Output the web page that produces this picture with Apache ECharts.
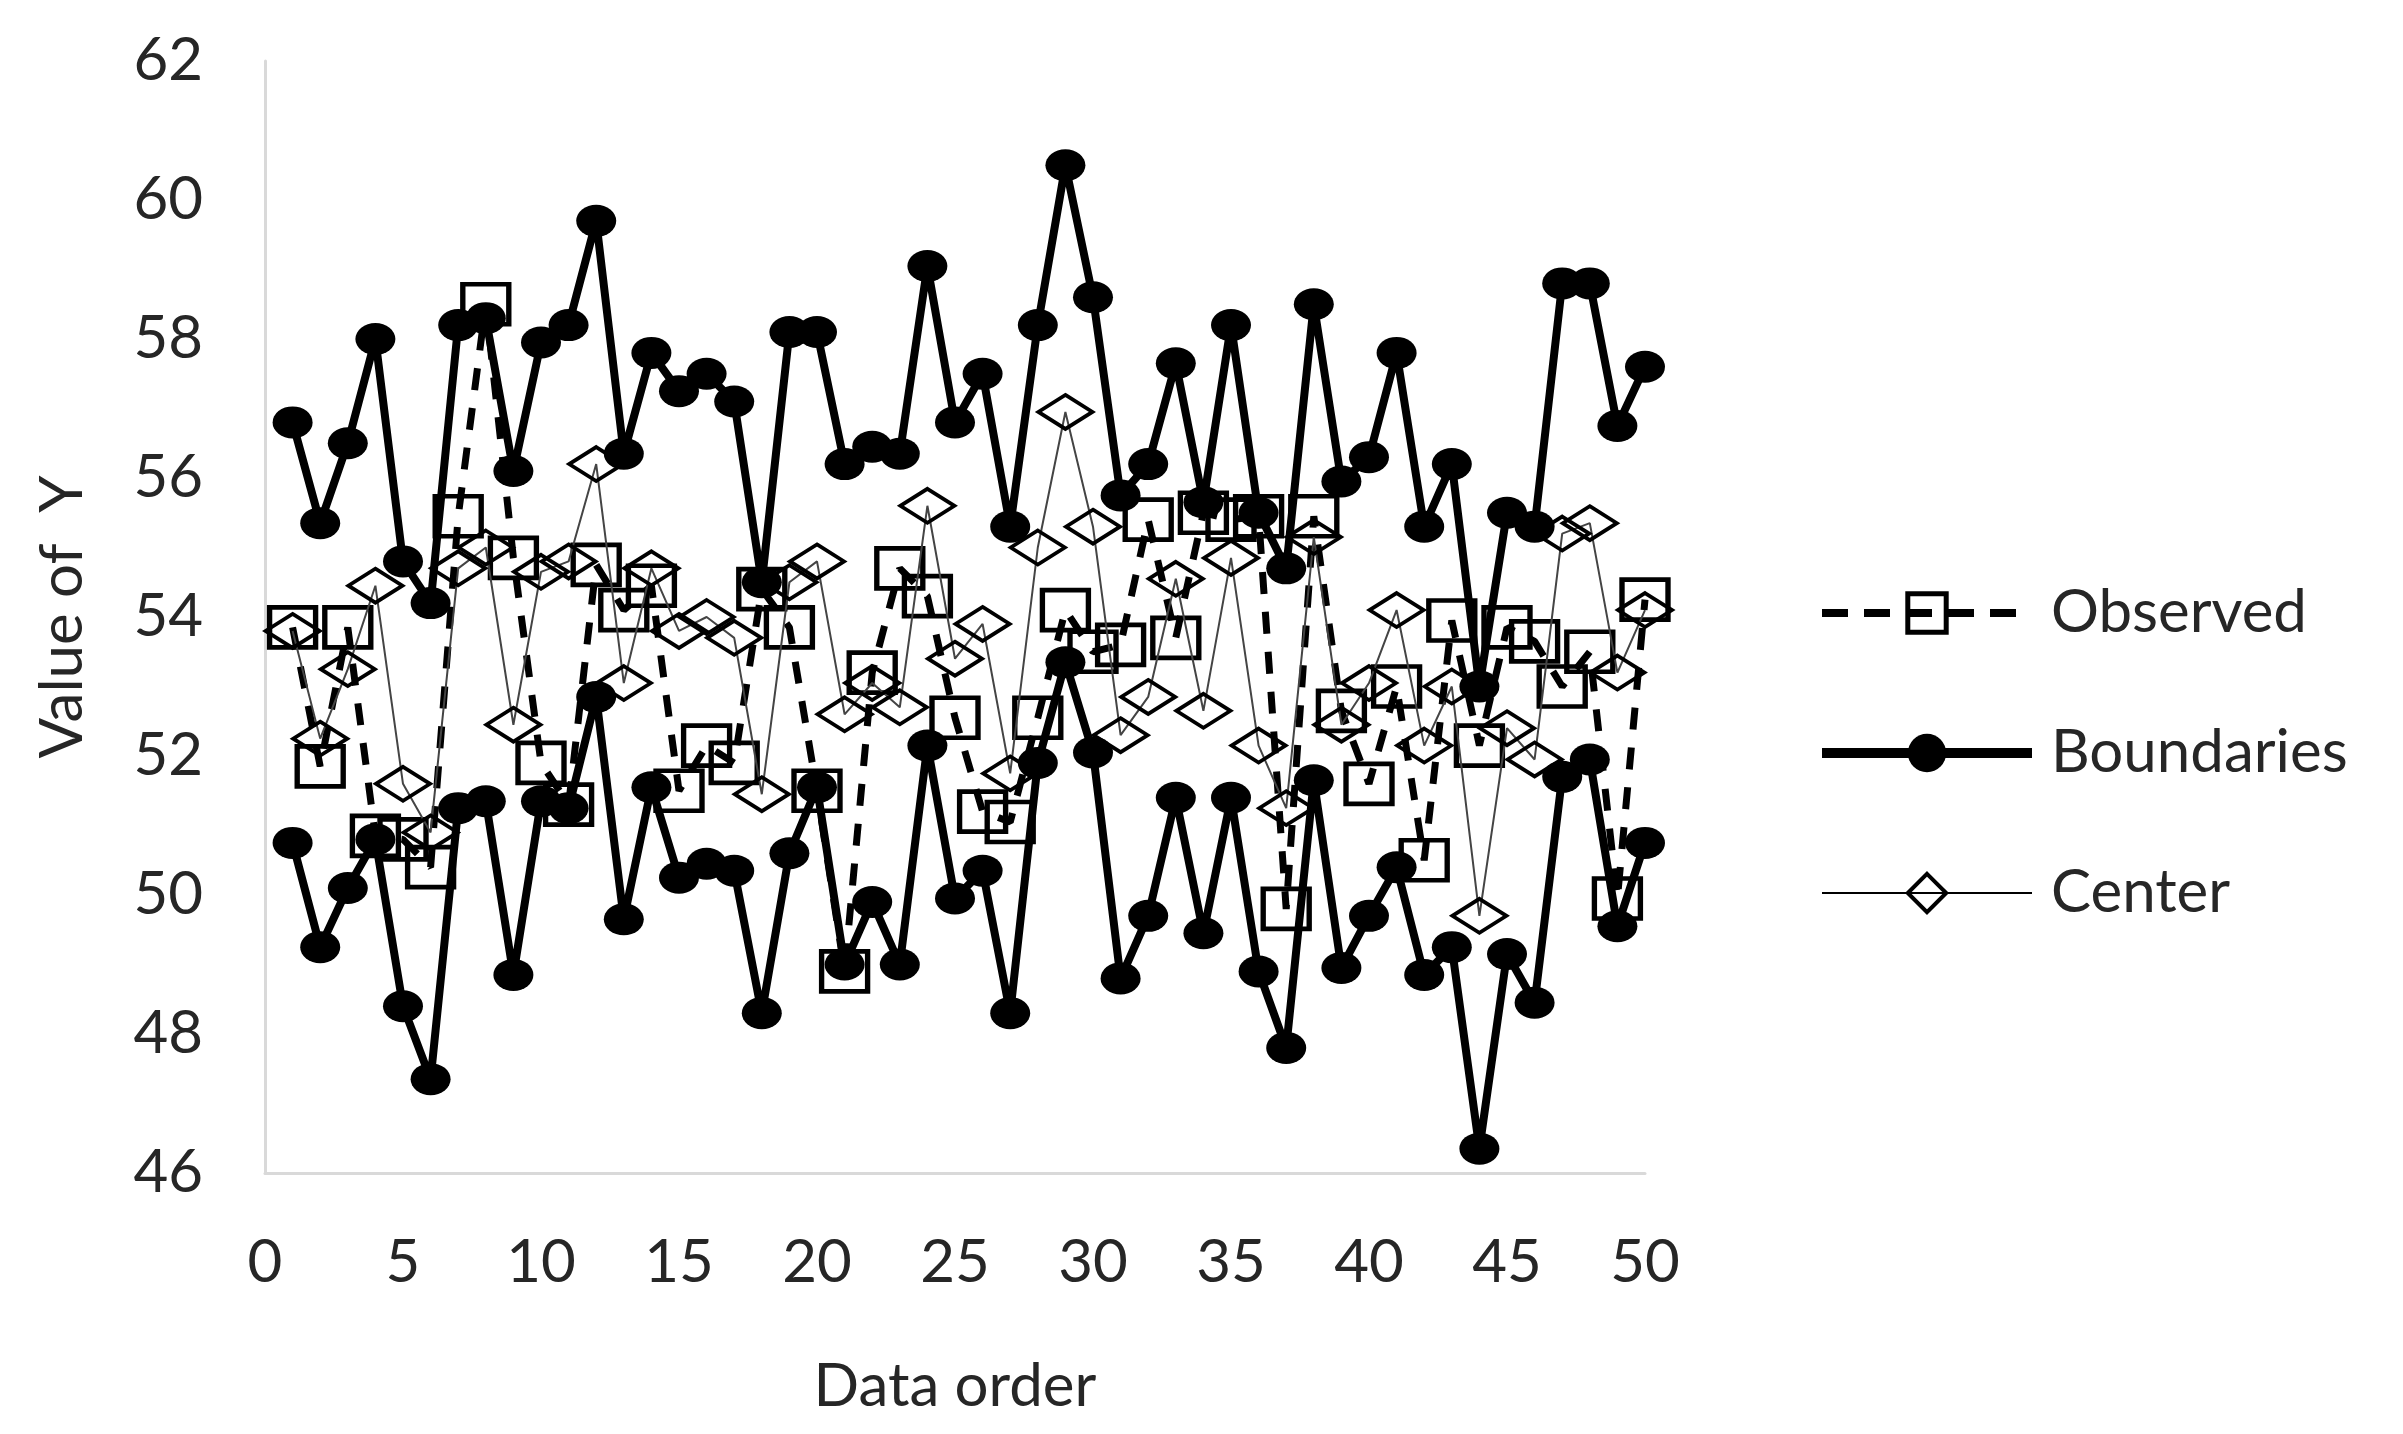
<!DOCTYPE html>
<html>
<head>
<meta charset="utf-8">
<title>Data order vs Value of Y</title>
<script src="https://cdn.jsdelivr.net/npm/echarts@6/dist/echarts.min.js"></script>
<style>
    html, body { margin: 0; padding: 0; background: #fff; }
    #chart { width: 2403px; height: 1434px; }
</style>
</head>
<body>
<div id="chart"></div>
<script>
// x positions (data order 1..50)
const dataOrder = [1,2,3,4,5,6,7,8,9,10,11,12,13,14,15,16,17,18,19,20,21,22,23,24,25,26,27,28,29,30,31,32,33,34,35,36,37,38,39,40,41,42,43,44,45,46,47,48,49,50];

const observed = [53.85,51.85,53.85,50.85,50.8,50.4,55.45,58.5,54.85,51.9,51.3,54.75,54.1,54.45,51.5,52.15,51.9,54.4,53.85,51.5,48.9,53.2,54.7,54.3,52.55,51.2,51.05,52.55,54.1,53.5,53.6,55.4,53.7,55.5,55.4,55.45,49.8,55.45,52.65,51.6,53.0,50.5,53.95,52.15,53.85,53.65,53.0,53.5,49.95,54.25];

const upperBound = [56.8,55.35,56.5,58.0,54.8,54.2,58.2,58.3,56.1,57.95,58.2,59.7,56.35,57.8,57.25,57.5,57.1,54.5,58.1,58.1,56.2,56.45,56.35,59.05,56.8,57.5,55.3,58.2,60.5,58.6,55.75,56.2,57.65,55.65,58.2,55.5,54.7,58.5,55.95,56.3,57.8,55.3,56.2,53.0,55.5,55.3,58.8,58.8,56.75,57.6];

const lowerBound = [50.75,49.25,50.1,50.8,48.4,47.35,51.25,51.35,48.85,51.35,51.25,52.85,49.65,51.55,50.25,50.45,50.35,48.3,50.6,51.55,49.0,49.9,49.0,52.15,49.95,50.35,48.3,51.9,53.35,52.05,48.8,49.7,51.4,49.45,51.4,48.9,47.8,51.65,48.95,49.7,50.4,48.85,49.25,46.35,49.15,48.45,51.7,51.95,49.55,50.75];

const center = [53.8,52.25,53.25,54.45,51.6,50.9,54.7,55.0,52.45,54.65,54.8,56.2,53.05,54.7,53.8,54.0,53.7,51.45,54.5,54.8,52.6,53.05,52.7,55.6,53.4,53.9,51.75,55.0,56.95,55.3,52.3,52.85,54.55,52.65,54.85,52.15,51.25,55.15,52.45,53.05,54.1,52.15,53.0,49.7,52.4,51.95,55.2,55.35,53.2,54.1];

const pairs = ys => dataOrder.map((x, i) => [x, ys[i]]);

const textColor = '#262626';
const fontFamily = 'Lato, "Noto Sans", sans-serif';

// line / marker looks, reused by the legend
const observedLine = { color: '#000', width: 7, type: [22, 18] };
const observedItem = { color: 'transparent', borderColor: '#000', borderWidth: 5 };
const boundaryLine = { color: '#000', width: 8 };
const boundaryItem = { color: '#000', borderWidth: 0 };
const centerLine = { color: '#444', width: 2 };
const centerItem = { color: 'transparent', borderColor: '#000', borderWidth: 4 };

const boundaryStyle = {
    type: 'line',
    name: 'Boundaries',
    symbol: 'circle',
    symbolSize: [40, 32],
    lineStyle: boundaryLine,
    itemStyle: boundaryItem,
    z: 2
};

const option = {
    animation: false,
    textStyle: { fontFamily: fontFamily, color: textColor },
    grid: { left: 265, right: 758, top: 61, bottom: 261 },
    legend: {
        orient: 'vertical',
        left: 1812,
        top: 578,
        itemWidth: 210,
        itemHeight: 48,
        itemGap: 80,
        textStyle: { fontSize: 60, color: textColor, fontFamily: fontFamily, padding: [0, 0, 0, 14] },
        data: [
            { name: 'Observed', lineStyle: { color: '#000', width: 8, type: [26, 16] }, itemStyle: observedItem },
            { name: 'Boundaries', lineStyle: { color: '#000', width: 10 }, itemStyle: boundaryItem },
            { name: 'Center', lineStyle: { color: '#000', width: 2 }, itemStyle: centerItem }
        ]
    },
    xAxis: {
        type: 'value',
        min: 0,
        max: 50,
        interval: 5,
        name: 'Data order',
        nameLocation: 'middle',
        nameGap: 184,
        nameTextStyle: { fontSize: 60, color: textColor },
        axisLine: { show: true, lineStyle: { color: '#d9d9d9', width: 3 } },
        axisTick: { show: false },
        splitLine: { show: false },
        axisLabel: { fontSize: 60, color: textColor, margin: 60 }
    },
    yAxis: {
        type: 'value',
        min: 46,
        max: 62,
        interval: 2,
        name: 'Value of  Y',
        nameLocation: 'middle',
        nameGap: 172,
        nameTextStyle: { fontSize: 60, color: textColor },
        axisLine: { show: true, lineStyle: { color: '#d9d9d9', width: 3 } },
        axisTick: { show: false },
        splitLine: { show: false },
        axisLabel: { fontSize: 60, color: textColor, margin: 62 }
    },
    series: [
        {
            type: 'line',
            name: 'Observed',
            data: pairs(observed),
            symbol: 'rect',
            symbolSize: [46, 40],
            lineStyle: observedLine,
            itemStyle: observedItem,
            z: 3
        },
        Object.assign({}, boundaryStyle, { data: pairs(upperBound) }),
        Object.assign({}, boundaryStyle, { data: pairs(lowerBound) }),
        {
            type: 'line',
            name: 'Center',
            data: pairs(center),
            symbol: 'diamond',
            symbolSize: [54, 34],
            lineStyle: centerLine,
            itemStyle: centerItem,
            z: 4
        }
    ]
};

const chart = echarts.init(document.getElementById('chart'));
chart.setOption(option);
</script>
</body>
</html>
